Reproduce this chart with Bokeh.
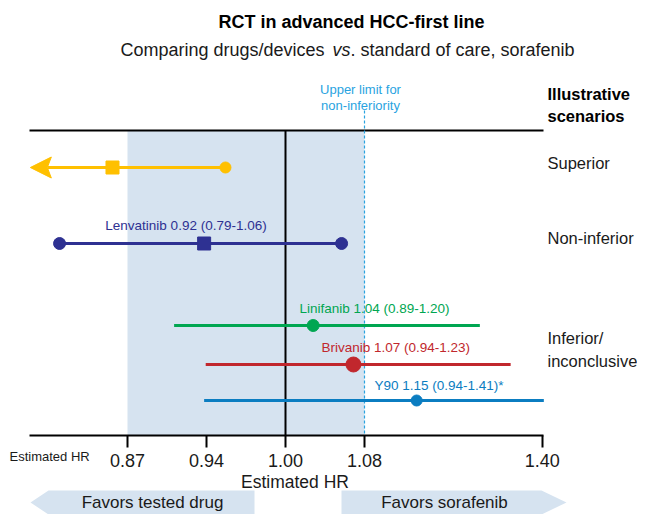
from bokeh.plotting import figure
from bokeh.models import Range1d, FixedTicker
from bokeh.core.properties import value
from bokeh.embed import file_html
from bokeh.resources import INLINE

# ---------------- data ----------------
# Schematic (non-linear) HR axis: labelled values and their schematic positions
tick_labels = ["0.87", "0.94", "1.00", "1.08", "1.40"]
tick_pos = [1, 2, 3, 4, 6.25]
ni_limit_pos = 4          # upper limit for non-inferiority (HR 1.08)
ref_pos = 3               # HR 1.00
shade_from = 1            # HR 0.87

scenario_titles = ["Illustrative", "scenarios"]
scenario_names = ["Superior", "Non-inferior", "Inferior/", "inconclusive"]

# Illustrative "superior" scenario (schematic positions)
sup_est = 0.81
sup_hi = 2.24
sup_lo = -0.23            # open-ended (arrow)

# Trials (schematic positions)
trial_labels = ["Lenvatinib 0.92 (0.79-1.06)", "Linifanib 1.04 (0.89-1.20)",
                "Brivanib 1.07 (0.94-1.23)", "Y90 1.15 (0.94-1.41)*"]
trial_est = [1.97, 3.35, 3.86, 4.66]
trial_lo = [0.14, 1.59, 1.99, 1.97]
trial_hi = [3.71, 5.46, 5.85, 6.27]
trial_colors = ["#2E3192", "#00A651", "#C1272D", "#0B7DC1"]
trial_marker = ["square", "circle", "circle", "circle"]
trial_size = [13, 12, 15, 11]

# ---------------- layout helpers ----------------
W, H = 637, 514
PX = 79.0                 # pixels per schematic unit


def ux(px):
    """canvas x (pixels) -> schematic axis units"""
    return 1 + (px - 127) / PX


FONT = "Liberation Sans"
INK = "#1a1a1a"
SHADE = "#D6E3F0"
YEL = "#FFC000"
DASH = "#29A3DF"

# rows (vertical layout, canvas pixels)
row_sup = 167
row_trials = [243, 325, 364, 400]
top_line = 130
axis_y = 435

p = figure(width=W, height=H,
           x_range=Range1d(ux(0), ux(W)), y_range=Range1d(H, 0),
           y_axis_type=None, output_backend="svg", toolbar_location=None,
           min_border=0, outline_line_color=None)
p.grid.visible = False
p.background_fill_color = "white"
p.border_fill_color = "white"

ax = p.xaxis[0]
ax.fixed_location = axis_y
ax.bounds = (ux(29), ux(543))
ax.ticker = FixedTicker(ticks=tick_pos)
ax.major_label_overrides = {t: l for t, l in zip(tick_pos, tick_labels)}
ax.minor_tick_line_color = None
ax.major_tick_out = 12
ax.major_tick_in = 0
ax.major_tick_line_width = 2
ax.major_tick_line_color = "black"
ax.axis_line_width = 2
ax.axis_line_color = "black"
ax.major_label_text_font = FONT
ax.major_label_text_font_size = "18px"
ax.major_label_text_color = INK
ax.major_label_standoff = 6
ax.axis_label = None

# shaded non-inferiority zone
p.quad(left=shade_from, right=ni_limit_pos, top=top_line, bottom=axis_y,
       fill_color=SHADE, line_color=None)
# reference lines
p.segment(x0=ux(29), x1=ux(543), y0=top_line, y1=top_line, line_color="black", line_width=2)
p.segment(x0=ref_pos, x1=ref_pos, y0=top_line, y1=axis_y, line_color="black", line_width=2)
p.segment(x0=ni_limit_pos, x1=ni_limit_pos, y0=110, y1=axis_y, line_color=DASH,
          line_width=1.2, line_dash="3 2")

# superior scenario
tip = sup_lo
p.patch(x=[tip, tip + 21 / PX, tip + 17 / PX, tip + 21 / PX],
        y=[row_sup, row_sup - 10.5, row_sup, row_sup + 10.5],
        fill_color=YEL, line_color=YEL)
p.segment(x0=tip + 17 / PX, x1=sup_hi, y0=row_sup, y1=row_sup, line_color=YEL, line_width=3)
p.scatter(x=[sup_est], y=[row_sup], marker="square", size=13, fill_color=YEL, line_color=YEL)
p.scatter(x=[sup_hi], y=[row_sup], marker="circle", size=11, fill_color=YEL, line_color=YEL)

# trials
for i in range(len(trial_labels)):
    c = trial_colors[i]
    y = row_trials[i]
    p.segment(x0=trial_lo[i], x1=trial_hi[i], y0=y, y1=y, line_color=c, line_width=3)
    if i == 0:
        p.scatter(x=[trial_lo[i], trial_hi[i]], y=[y, y], marker="circle", size=12,
                  fill_color=c, line_color=c)
    p.scatter(x=[trial_est[i]], y=[y], marker=trial_marker[i], size=trial_size[i],
              fill_color=c, line_color=c)


def txt(x, y, s, size="18px", color=INK, align="left", style="normal"):
    p.text(x=[x], y=[y], text=[s], text_font=value(FONT), text_font_size=size,
           text_color=color, text_align=align, text_baseline="middle",
           text_font_style=style)


# trial labels
txt(ux(185.5), 225, trial_labels[0], "13.5px", trial_colors[0], "center")
txt(ux(299), 308, trial_labels[1], "13.5px", trial_colors[1])
txt(ux(321), 347, trial_labels[2], "13.5px", trial_colors[2])
txt(ux(374), 385, trial_labels[3], "13.5px", trial_colors[3])

# titles
txt(ux(351), 21, "RCT in advanced HCC-first line", "18px", "black", "center", "bold")
txt(ux(120), 49, "Comparing drugs/devices", "18px", INK)
txt(ux(332), 49, "vs", "18px", INK, style="italic")
txt(ux(350), 49, ". standard of care, sorafenib", "18px", INK)

# non-inferiority limit note
txt(ux(360), 89, "Upper limit for", "13px", DASH, "center")
txt(ux(360), 105, "non-inferiority", "13px", DASH, "center")

# scenario labels
RX = 547
txt(ux(RX), 93, scenario_titles[0], "16.5px", "black", style="bold")
txt(ux(RX), 115, scenario_titles[1], "16.5px", "black", style="bold")
txt(ux(RX), 162, scenario_names[0], "16.5px")
txt(ux(RX), 237, scenario_names[1], "16.5px")
txt(ux(RX), 337, scenario_names[2], "16.5px")
txt(ux(RX), 360, scenario_names[3], "16.5px")

# axis captions
txt(ux(9), 456, "Estimated HR", "13px", INK)
txt(ux(294.5), 481, "Estimated HR", "17.5px", INK, "center")

# favour arrows
ay, ah = 502, 12
p.patch(x=[ux(30), ux(48), ux(254), ux(254), ux(48)],
        y=[ay, ay - ah, ay - ah, ay + ah, ay + ah], fill_color=SHADE, line_color=None)
p.patch(x=[ux(341), ux(541), ux(566), ux(541), ux(341)],
        y=[ay - ah, ay - ah, ay, ay + ah, ay + ah], fill_color=SHADE, line_color=None)
txt(ux(152), ay, "Favors tested drug", "17px", INK, "center")
txt(ux(444), ay, "Favors sorafenib", "17px", INK, "center")

open("out.html", "w").write(file_html(p, INLINE))
